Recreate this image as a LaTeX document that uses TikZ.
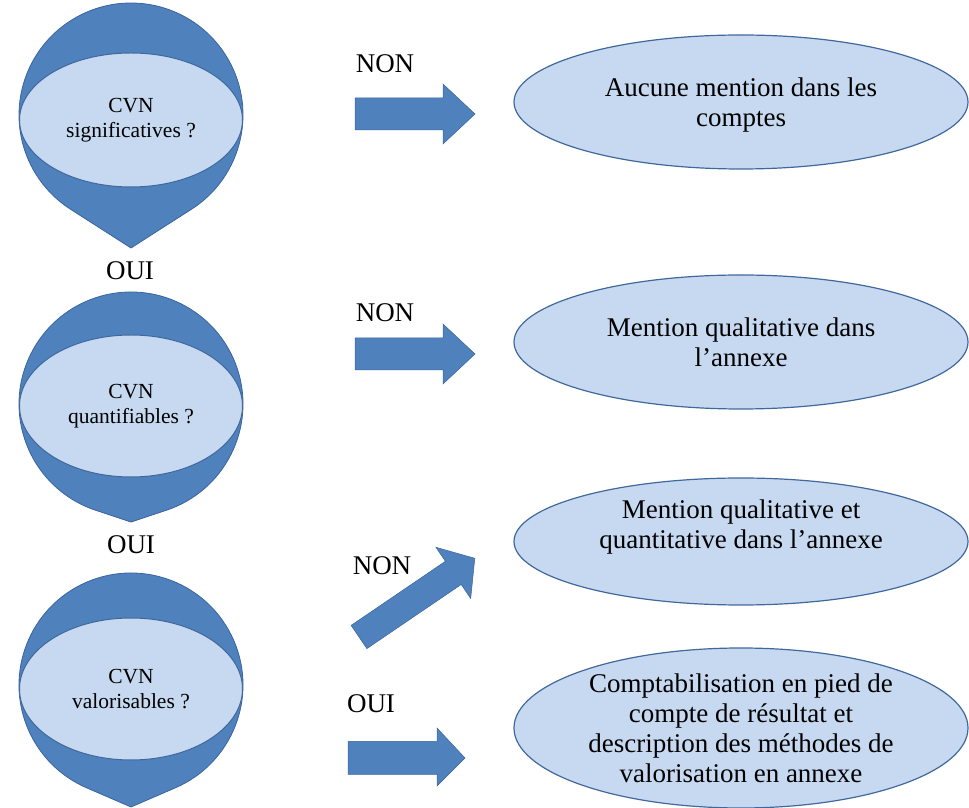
\documentclass[tikz,border=0pt]{standalone}
\usepackage{fontspec}
\setmainfont{Liberation Serif}
\usetikzlibrary{shapes.geometric}
\definecolor{darkfill}{HTML}{4F81BD}
\definecolor{darkline}{HTML}{3A64A0}
\definecolor{lightfill}{HTML}{C6D9F0}
\definecolor{edgeline}{HTML}{41689C}
\begin{document}
\begin{tikzpicture}[x=1pt,y=1pt,
  drop/.style={fill=darkfill, draw=darkline, line width=0.8pt},
  innerell/.style={ellipse, fill=lightfill, draw=edgeline, line width=1pt, minimum width=223pt, inner sep=0pt, align=center, font=\fontsize{21.5}{25}\selectfont},
  result/.style={ellipse, fill=lightfill, draw=edgeline, line width=1.2pt, minimum width=454pt, inner sep=0pt},
  restext/.style={align=center, inner sep=0pt, font=\fontsize{27}{30}\selectfont},
  lab/.style={inner sep=0pt, font=\fontsize{27}{30}\selectfont},
  blockarrow/.style={fill=darkfill, draw=darkline, line width=0.5pt}]
\useasboundingbox (0,0) rectangle (969,808);

% teardrops
\coordinate (c1) at (131,693);
\coordinate (t1) at (131,560);
\path[drop] (c1) ++(-57.4:112) arc[start angle=-57.4, end angle=237.4, radius=112] -- (t1) -- cycle;
\coordinate (c2) at (131,404);
\coordinate (t2) at (131,286);
\path[drop] (c2) ++(-71.6:112) arc[start angle=-71.6, end angle=251.6, radius=112] -- (t2) -- cycle;
\coordinate (c3) at (131,123);
\coordinate (t3) at (131,1);
\path[drop] (c3) ++(-66.7:112) arc[start angle=-66.7, end angle=246.7, radius=112] -- (t3) -- cycle;

% inner ellipses
\node[innerell, minimum height=134pt] (q1) at (131,688) {CVN\\significatives ?};
\node[innerell, minimum height=142pt] (q2) at (131,402) {CVN\\quantifiables ?};
\node[innerell, minimum height=142pt] (q3) at (131,119) {CVN\\valorisables ?};

% OUI labels on the left
\node[lab] (oui1) at (130,537) {OUI};
\node[lab] (oui2) at (131,263) {OUI};

% result ellipses
\node[result, minimum height=134pt] (r1) at (741,706) {};
\node[result, minimum height=134pt] (r2) at (741,466) {};
\node[result, minimum height=127pt] (r3) at (741,266.5) {};
\node[result, minimum height=160pt] (r4) at (741,80) {};
\node[restext] (r1t) at (741,703) {Aucune mention dans les\\comptes};
\node[restext] (r2t) at (741,466) {Mention qualitative dans\\l’annexe};
\node[restext] (r3t) at (741,281) {Mention qualitative et\\quantitative dans l’annexe};
\node[restext] (r4t) at (741,80) {Comptabilisation en pied de\\compte de résultat et\\description des méthodes de\\valorisation en annexe};

% arrow labels
\node[lab] (non1) at (385,744) {NON};
\node[lab] (non2) at (385,495) {NON};
\node[lab] (non3) at (382,242) {NON};
\node[lab] (oui3) at (371,104) {OUI};

% block arrows
\path[blockarrow] (355,710) -- (443,710) -- (443,724) -- (475,694) -- (443,664) -- (443,678) -- (355,678) -- cycle;
\path[blockarrow] (355,470) -- (443,470) -- (443,484) -- (475,454) -- (443,424) -- (443,438) -- (355,438) -- cycle;
\path[blockarrow] (351.1,182.6) -- (445.4,246.7) -- (435.9,260.7) -- (474.8,249.7) -- (470.7,209.5) -- (461.2,223.5) -- (366.9,159.4) -- cycle;
\path[blockarrow] (348,66.5) -- (437,66.5) -- (437,80) -- (465,50) -- (437,22) -- (437,33.5) -- (348,33.5) -- cycle;
\end{tikzpicture}
\end{document}
